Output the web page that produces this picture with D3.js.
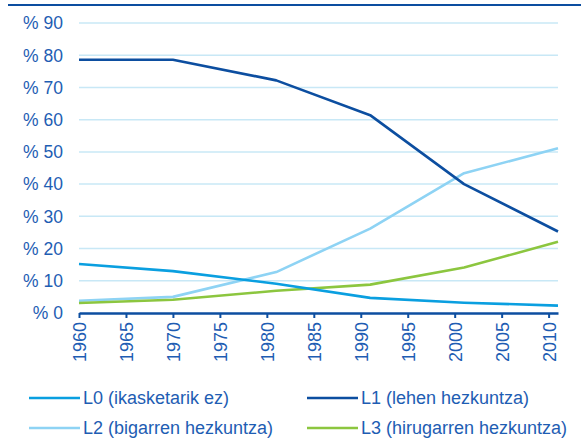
<!DOCTYPE html>
<html>
<head>
<meta charset="utf-8">
<script src="https://cdn.jsdelivr.net/npm/d3@7"></script>
<style>
    body { margin: 0; background: #fff; }
    text { font-family: "Liberation Sans", Arial, sans-serif; fill: #1e5db3; }
</style>
</head>
<body>
<div id="chart"></div>
<script>
// census years and shares (%) per education level
const years = [1960, 1970, 1981, 1991, 2001, 2011];
const l0 = [15.2, 13.0, 9.1, 4.7, 3.2, 2.3];
const l1 = [78.6, 78.6, 72.2, 61.4, 40.0, 25.3];
const l2 = [3.8, 5.0, 12.7, 26.2, 43.4, 51.1];
const l3 = [3.1, 4.1, 6.9, 8.8, 14.1, 22.1];
const seriesNames = ['L0 (ikasketarik ez)', 'L1 (lehen hezkuntza)', 'L2 (bigarren hezkuntza)', 'L3 (hirugarren hezkuntza)'];
const seriesColors = ['#0a9fe0', '#0c4ea0', '#8ed3f4', '#8cc63f'];
const xTicks = [1960, 1965, 1970, 1975, 1980, 1985, 1990, 1995, 2000, 2005, 2010];
const yTicks = [0, 10, 20, 30, 40, 50, 60, 70, 80, 90];

const width = 581, height = 439;
const margin = {top: 23, right: 23, bottom: 126, left: 79};

const svg = d3.select('#chart').append('svg')
    .attr('width', width)
    .attr('height', height);

// top rule
svg.append('rect')
    .attr('x', 8).attr('y', 4)
    .attr('width', width - 8).attr('height', 2)
    .attr('fill', '#0c4ea0');

const x = d3.scaleLinear().domain([1960, 2011]).range([margin.left, width - margin.right]);
const y = d3.scaleLinear().domain([0, 90]).range([height - margin.bottom, margin.top]);

// gridlines
svg.append('g')
    .selectAll('line')
    .data(yTicks.filter(d => d > 0))
    .enter()
    .append('line')
    .attr('x1', x(1960)).attr('x2', x(2011))
    .attr('y1', d => y(d)).attr('y2', d => y(d))
    .attr('stroke', '#c8e8f6')
    .attr('stroke-width', 1.5);

// y labels
svg.append('g')
    .selectAll('text')
    .data(yTicks)
    .enter()
    .append('text')
    .attr('x', 63)
    .attr('y', d => y(d))
    .attr('dy', '0.36em')
    .attr('text-anchor', 'end')
    .style('font-size', '17.5px')
    .text(d => '% ' + d);

// lines
const allSeries = [l0, l1, l2, l3];
const line = d3.line()
    .x((d, i) => x(years[i]))
    .y(d => y(d));

// draw order: L2, L3, L0, L1
[2, 3, 0, 1].forEach(k => {
    svg.append('path')
        .datum(allSeries[k])
        .attr('d', line)
        .attr('fill', 'none')
        .attr('stroke', seriesColors[k])
        .attr('stroke-width', 2.6)
        .attr('stroke-linejoin', 'round');
});

// x axis
const xAxis = d3.axisBottom(x)
    .tickValues(xTicks)
    .tickFormat(d3.format('d'))
    .tickSize(5)
    .tickSizeOuter(0);

const gx = svg.append('g')
    .attr('transform', `translate(0, ${y(0)})`)
    .call(xAxis);

gx.select('.domain')
    .attr('stroke', '#0c4ea0')
    .attr('stroke-width', 2.5);
gx.selectAll('.tick line')
    .attr('stroke', '#0c4ea0')
    .attr('stroke-width', 2);
gx.selectAll('.tick text')
    .attr('transform', 'rotate(-90)')
    .attr('x', -9)
    .attr('y', 0)
    .attr('dy', '0.36em')
    .style('text-anchor', 'end')
    .style('font-size', '18px')
    .style('font-family', '"Liberation Sans", Arial, sans-serif')
    .attr('fill', '#1e5db3');

// legend
const legendPos = [[29, 398], [307, 398], [29, 428], [307, 428]];
const legend = svg.append('g')
    .selectAll('g')
    .data(seriesNames)
    .enter()
    .append('g')
    .attr('transform', (d, i) => `translate(${legendPos[i][0]}, ${legendPos[i][1]})`);

legend.append('line')
    .attr('x1', 0).attr('x2', 51)
    .attr('y1', 0).attr('y2', 0)
    .attr('stroke', (d, i) => seriesColors[i])
    .attr('stroke-width', 2.6);

legend.append('text')
    .attr('x', 54)
    .attr('y', 0)
    .attr('dy', '0.36em')
    .style('font-size', '18px')
    .text(d => d);
</script>
</body>
</html>
